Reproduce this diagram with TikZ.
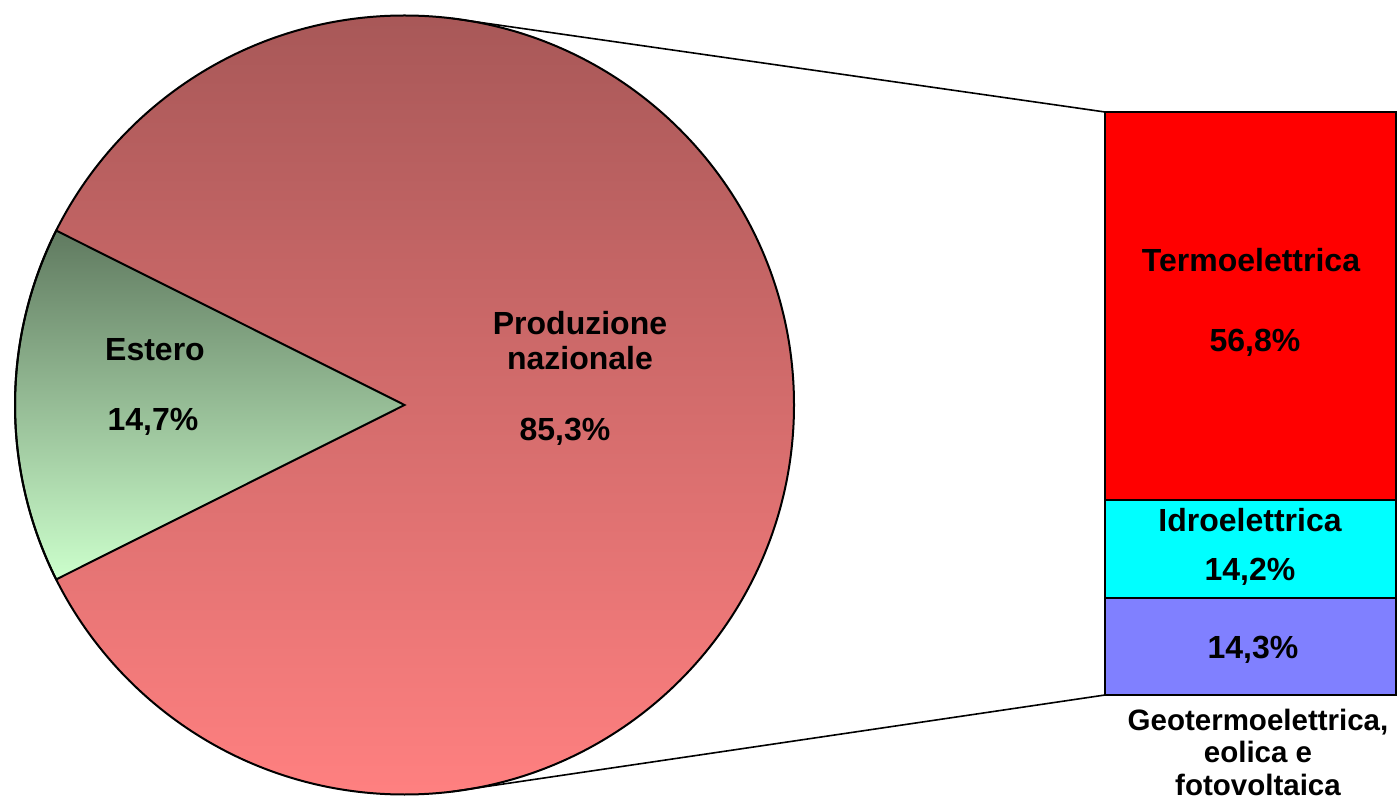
\documentclass[tikz,border=0pt]{standalone}
\usepackage{fontspec}
\setmainfont{Liberation Sans}
\definecolor{pieTop}{RGB}{168,88,88}
\definecolor{pieBot}{RGB}{255,128,128}
\definecolor{greenTop}{RGB}{96,122,96}
\definecolor{greenBot}{RGB}{204,255,204}
\definecolor{termo}{RGB}{255,0,0}
\definecolor{idro}{RGB}{0,255,255}
\definecolor{geo}{RGB}{128,128,255}
\begin{document}
\begin{tikzpicture}[x=1pt,y=1pt,
  lbl/.style={font=\fontsize{32}{35}\selectfont\bfseries, inner sep=0pt, align=center},
  barseg/.style={draw=black, line width=2pt, minimum width=291pt, inner sep=0pt, outer sep=0pt, anchor=south west},
  outline/.style={draw=black, line width=2pt},
  conn/.style={draw=black, line width=1.6pt}]
\useasboundingbox (0,0) rectangle (1397,801);
\coordinate (c) at (404.5,396);
% pie
\shade[top color=pieTop, bottom color=pieBot] (c) circle (389.5);
\shade[top color=greenTop, bottom color=greenBot] (c) -- ++(153.4:389.5) arc (153.4:206.6:389.5) -- cycle;
\draw[outline] (c) -- ++(153.4:389.5) arc (153.4:206.6:389.5) -- cycle;
\draw[outline] (c) circle (389.5);
% bar
\node[barseg, fill=geo, minimum height=97pt] (geo) at (1105,106) {};
\node[barseg, fill=idro, minimum height=98pt] (idro) at (1105,203) {};
\node[barseg, fill=termo, minimum height=388pt] (termo) at (1105,301) {};
% connectors
\coordinate (pt) at (452,782.6);
\coordinate (pb) at (452,9.4);
\draw[conn] (pt) -- (termo.north west);
\draw[conn] (pb) -- (geo.south west);
% labels
\node[lbl] (estero) at (155,451) {Estero};
\node[lbl] (esterov) at (153,379) {14,7\%};
\node[lbl] (prod) at (580,460.5) {Produzione\\nazionale};
\node[lbl] (prodv) at (565,369) {85,3\%};
\node[lbl] (termol) at (1251,541) {Termoelettrica};
\node[lbl] (termov) at (1255,458) {56,8\%};
\node[lbl] (idrol) at (1250,281) {Idroelettrica};
\node[lbl] (idrov) at (1250,229) {14,2\%};
\node[lbl] (geov) at (1253,151) {14,3\%};
\node[lbl, font=\fontsize{29.5}{32.5}\selectfont\bfseries] (geol) at (1258,49) {Geotermoelettrica,\\eolica e\\fotovoltaica};
\end{tikzpicture}
\end{document}
